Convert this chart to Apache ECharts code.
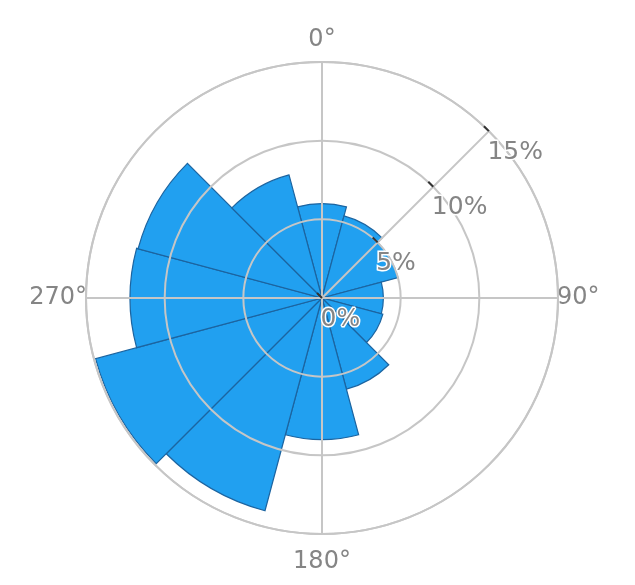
<!DOCTYPE html>
<html><head><meta charset="utf-8">
<script src="https://cdn.jsdelivr.net/npm/echarts@6/dist/echarts.min.js"></script>
<style>html,body{margin:0;padding:0;background:#fff}#c{width:635px;height:585px}</style>
</head><body><div id="c"></div>
<script>
// Direction sectors (degrees, clockwise from north), 30° wide each
const directions = ['0°','30°','60°','90°','120°','150°','180°','210°','240°','270°','300°','330°'];
// Frequency per sector (%)
const frequency = [6.0, 5.4, 5.0, 3.9, 4.0, 6.0, 9.0, 14.0, 14.9, 12.2, 12.1, 8.1];
// Axis settings
const angleLabelStep = 90;     // 0°, 90°, 180°, 270°
const radiusMax = 15;
const radiusStep = 5;          // 0%, 5%, 10%, 15%

const CENTER = [322, 298];
const RADIUS = 236;
const GRID = '#c6c6c6';
const TXT = '#858585';
const FONT = 'DejaVu Sans';

// degree-label groups, each drawn with its own distance from the rim
const labelGroups = [
  {values: [0], margin: 10},
  {values: [180], margin: 16},
  {values: [90, 270], margin: -1}
];

const polars = [0, 1, 2].map(() => ({center: CENTER, radius: RADIUS}));
const angleAxes = [
  { // bars
    polarIndex: 0, type: 'category', data: directions,
    startAngle: 90 + 15, clockwise: true, show: false
  },
  { // grid cross + outer rim
    polarIndex: 1, type: 'value', min: 0, max: 360, interval: angleLabelStep,
    startAngle: 90, clockwise: true, z: 3,
    axisLine: {show: true, lineStyle: {color: GRID, width: 2}},
    axisTick: {show: false},
    splitLine: {show: true, lineStyle: {color: GRID, width: 2}},
    axisLabel: {show: false}
  },
  { // carrier for the diagonal radius axis
    polarIndex: 2, type: 'value', min: 0, max: 360,
    startAngle: 45, clockwise: true, show: false
  }
];
const radiusAxes = [
  {polarIndex: 0, type: 'value', min: 0, max: radiusMax, show: false},
  {
    polarIndex: 1, type: 'value', min: 0, max: radiusMax, interval: radiusStep, z: 3,
    axisLine: {show: false}, axisTick: {show: false}, axisLabel: {show: false},
    splitLine: {show: true, lineStyle: {color: GRID, width: 2}}
  },
  {
    polarIndex: 2, type: 'value', min: 0, max: radiusMax, interval: radiusStep, z: 4,
    axisLine: {show: true, lineStyle: {color: GRID, width: 2}},
    axisTick: {show: true, inside: true, length: 7, lineStyle: {color: '#333', width: 2}},
    splitLine: {show: false},
    axisLabel: {
      show: true, inside: true, margin: 2, align: 'left', verticalAlign: 'top',
      padding: [10, 0, 0, 0],
      color: TXT, fontFamily: FONT, fontSize: 25,
      textBorderColor: '#fff', textBorderWidth: 3,
      formatter: '{value}%'
    }
  }
];
labelGroups.forEach(g => {
  const idx = polars.length;
  polars.push({center: CENTER, radius: RADIUS});
  angleAxes.push({
    polarIndex: idx, type: 'value', min: 0, max: 360, interval: angleLabelStep,
    startAngle: 90, clockwise: true, z: 3,
    axisLine: {show: false}, axisTick: {show: false}, splitLine: {show: false},
    axisLabel: {
      margin: g.margin, color: TXT, fontFamily: FONT, fontSize: 24,
      formatter: v => (g.values.indexOf(v) >= 0 ? v + '°' : '')
    }
  });
  radiusAxes.push({polarIndex: idx, type: 'value', min: 0, max: radiusMax, show: false});
});

const chart = echarts.init(document.getElementById('c'), null, {renderer: 'canvas'});
chart.setOption({
  animation: false,
  backgroundColor: '#fff',
  polar: polars,
  angleAxis: angleAxes,
  radiusAxis: radiusAxes,
  series: [{
    type: 'bar',
    coordinateSystem: 'polar',
    polarIndex: 0,
    data: frequency,
    barCategoryGap: '0%',
    z: 1,
    itemStyle: {color: '#21A0F0', borderColor: '#1c64a0', borderWidth: 1.2}
  }]
});
</script>
</body></html>
